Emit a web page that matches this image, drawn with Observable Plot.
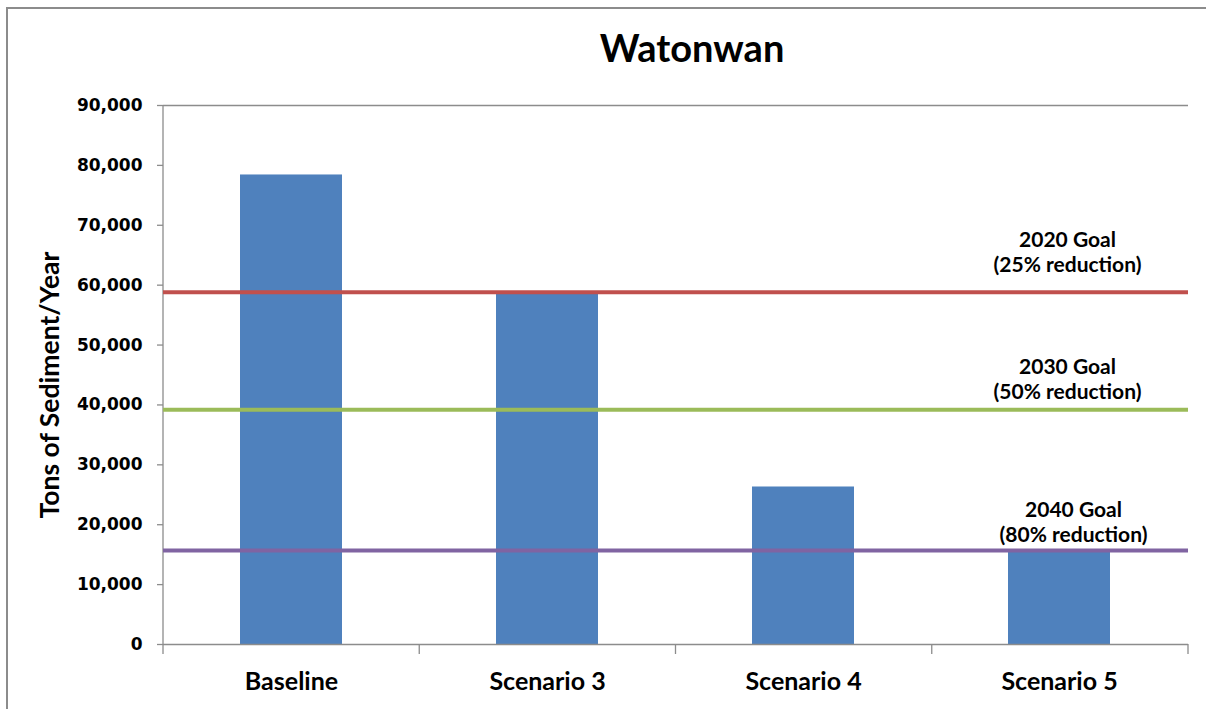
<!DOCTYPE html>
<html>
<head>
<meta charset="utf-8">
<script src="https://cdn.jsdelivr.net/npm/d3@7"></script>
<script src="https://cdn.jsdelivr.net/npm/@observablehq/plot@0.6"></script>
<style>
  html, body { margin: 0; padding: 0; background: #fff; }
  #wrap { position: relative; width: 1206px; height: 709px; overflow: hidden; background: #fff; }
  #frame { position: absolute; left: 6px; top: 7px; width: 1400px; height: 900px;
           border-left: 2px solid #8c8c8c; border-top: 2px solid #8c8c8c; pointer-events: none; }
  #title { position: relative; height: 95px; box-sizing: border-box; padding-top: 28px; padding-left: 178px;
           width: 1206px; text-align: center; font-family: Lato, "Open Sans", sans-serif; font-weight: bold;
           font-size: 38px; line-height: 1; color: #000; }
  #chart { position: relative; }
</style>
</head>
<body>
<div id="wrap">
  <div id="frame"></div>
  <div id="title">Watonwan</div>
  <div id="chart"></div>
</div>
<script>
const categories = ["Baseline", "Scenario 3", "Scenario 4", "Scenario 5"];
const sediment = [78400, 58600, 26300, 15500];
const goalNames = ["2020 Goal", "2030 Goal", "2040 Goal"];
const goalNotes = ["(25% reduction)", "(50% reduction)", "(80% reduction)"];
const goalValues = [58800, 39200, 15700];
const goalColors = ["#C0504D", "#9BBB59", "#8064A2"];
const yTicks = [0, 10000, 20000, 30000, 40000, 50000, 60000, 70000, 80000, 90000];
const yLabel = "Tons of Sediment/Year";

const bars = categories.map((c, i) => ({category: c, value: sediment[i]}));
const goals = goalNames.map((g, i) => ({name: g, note: goalNotes[i], value: goalValues[i], color: goalColors[i]}));
const goalDy = [-20, -11, -8];
const goalDx = [8, 8, 14];

const gray = "#8c8c8c";

function structure(index, scales, values, dims) {
  const g = d3.create("svg:g");
  const left = dims.marginLeft, right = dims.width - dims.marginRight;
  const y0 = scales.y(0), yTop = scales.y(yTicks[yTicks.length - 1]);
  // left axis line
  g.append("line").attr("x1", left).attr("x2", left).attr("y1", yTop).attr("y2", y0)
    .attr("stroke", gray).attr("stroke-width", 1.3);
  // category boundary ticks
  const n = categories.length, step = (right - left) / n;
  for (let i = 0; i <= n; i++) {
    const ex = left + i * step;
    g.append("line").attr("x1", ex).attr("x2", ex).attr("y1", y0).attr("y2", y0 + 10)
      .attr("stroke", gray).attr("stroke-width", 1.3);
  }
  return g.node();
}

const marks = [
  Plot.ruleY([yTicks[yTicks.length - 1]], {stroke: gray, strokeWidth: 1.3}),
  Plot.barY(bars, {x: "category", y: "value", fill: "#4F81BD"}),
  Plot.ruleY([0], {stroke: gray, strokeWidth: 1.3}),
  structure,
  Plot.ruleY(goals, {y: "value", stroke: "color", strokeWidth: 4}),
  ...goals.map((g, i) => Plot.text([g], {
    x: () => categories[categories.length - 1], y: "value",
    text: d => d.name + "\n" + d.note,
    lineAnchor: "bottom", lineHeight: 1.2, dy: goalDy[i], dx: goalDx[i],
    fontFamily: "Lato, sans-serif", fontWeight: "bold", fontSize: 21, fill: "#000"
  })),
  Plot.axisY({ticks: yTicks, tickFormat: d3.format(","), tickSize: 6, tickPadding: 15,
    stroke: gray, strokeWidth: 1.3, fontFamily: "'DejaVu Sans', sans-serif", fontWeight: "bold",
    fontSize: 17, fill: "#000", label: null}),
  Plot.axisX({tickSize: 0, tickPadding: 28, fontFamily: "Lato, sans-serif", fontWeight: "bold",
    fontSize: 25, fill: "#000", label: null}),
  Plot.text([yLabel], {frameAnchor: "left", textAnchor: "middle", lineAnchor: "middle",
    text: d => d, rotate: -90, dx: -113, dy: 10,
    fontFamily: "Lato, sans-serif", fontWeight: "bold", fontSize: 26.5, fill: "#000"})
];

const chart = Plot.plot({
  width: 1206,
  height: 614,
  marginLeft: 163,
  marginRight: 18,
  marginTop: 10,
  marginBottom: 65,
  style: {background: "transparent", color: "#000", overflow: "visible"},
  x: {domain: categories, paddingInner: 0.6, paddingOuter: 0.3, label: null},
  y: {domain: [0, 90000], label: null},
  marks
});
document.getElementById("chart").appendChild(chart);
</script>
</body>
</html>
